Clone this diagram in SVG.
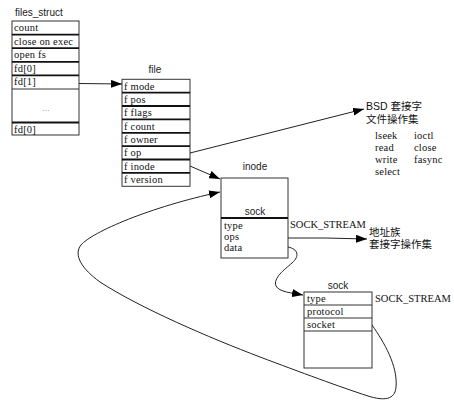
<svg xmlns="http://www.w3.org/2000/svg" width="454" height="419" viewBox="0 0 454 419">
<defs>
<marker id="ah" markerUnits="userSpaceOnUse" markerWidth="11" markerHeight="8" refX="11" refY="4" orient="auto">
<path d="M0,0 L11,4 L0,8 z" fill="#000"/>
</marker>
<style>
.box{fill:#fff;stroke:#333;stroke-width:1}
.sep{stroke:#111;stroke-width:1.8}
.thin{stroke:#333;stroke-width:1}
.t{font-family:"Liberation Serif",serif;font-size:10.5px;letter-spacing:0.2px;fill:#111}
.lbl{font-family:"Liberation Sans",sans-serif;font-size:10px;fill:#222}
.ss{font-family:"Liberation Serif",serif;font-size:10.5px;fill:#111}
.cjk{font-family:"Liberation Sans","Noto Sans CJK SC",sans-serif;font-size:10.5px;fill:#111}
.edge{fill:none;stroke:#222;stroke-width:1}
</style>
</defs>
<rect width="454" height="419" fill="#fff"/>

<g id="files_struct">
<text class="lbl" x="15" y="15.5">files_struct</text>
<rect class="box" x="12" y="21" width="67" height="114"/>
<line class="sep" x1="12" y1="34.6" x2="79" y2="34.6"/>
<line class="sep" x1="12" y1="48.2" x2="79" y2="48.2"/>
<line class="sep" x1="12" y1="61.8" x2="79" y2="61.8"/>
<line class="sep" x1="12" y1="75.4" x2="79" y2="75.4"/>
<line class="thin" x1="12" y1="89" x2="79" y2="89"/>
<line class="sep" x1="12" y1="122.5" x2="79" y2="122.5"/>
<text class="t" x="14" y="31">count</text>
<text class="t" x="14" y="44.6">close on exec</text>
<text class="t" x="14" y="58.2">open fs</text>
<text class="t" x="14" y="71.8">fd[0]</text>
<text class="t" x="14" y="85.4">fd[1]</text>
<text x="46" y="111" text-anchor="middle" style="font-family:'Liberation Sans',sans-serif;font-size:9px;fill:#999">...</text>
<text class="t" x="14" y="132.5">fd[0]</text>
</g>

<g id="file">
<text class="lbl" x="155" y="72.5" text-anchor="middle">file</text>
<rect class="box" x="122" y="79.3" width="68" height="107"/>
<line class="sep" x1="122" y1="92.7" x2="190" y2="92.7"/>
<line class="sep" x1="122" y1="106" x2="190" y2="106"/>
<line class="sep" x1="122" y1="119.4" x2="190" y2="119.4"/>
<line class="sep" x1="122" y1="132.8" x2="190" y2="132.8"/>
<line class="sep" x1="122" y1="146.1" x2="190" y2="146.1"/>
<line class="sep" x1="122" y1="159.5" x2="190" y2="159.5"/>
<line class="sep" x1="122" y1="172.9" x2="190" y2="172.9"/>
<text class="t" x="124" y="89.5">f mode</text>
<text class="t" x="124" y="102.9">f pos</text>
<text class="t" x="124" y="116.2">f flags</text>
<text class="t" x="124" y="129.6">f count</text>
<text class="t" x="124" y="143">f owner</text>
<text class="t" x="124" y="156.3">f op</text>
<text class="t" x="124" y="169.7">f inode</text>
<text class="t" x="124" y="183.1">f version</text>
</g>

<g id="bsd_ops">
<text class="cjk" x="366" y="110">BSD 套接字</text>
<text class="cjk" x="366" y="123">文件操作集</text>
<text class="t" x="375" y="139">lseek</text>
<text class="t" x="414" y="139">ioctl</text>
<text class="t" x="375" y="151">read</text>
<text class="t" x="414" y="151">close</text>
<text class="t" x="375" y="163">write</text>
<text class="t" x="414" y="163">fasync</text>
<text class="t" x="375" y="175">select</text>
</g>

<g id="inode">
<text class="lbl" x="255" y="169.5" text-anchor="middle">inode</text>
<rect class="box" x="221" y="178" width="67" height="80"/>
<line class="sep" x1="221" y1="218" x2="288" y2="218"/>
<text class="lbl" x="255" y="214.5" text-anchor="middle">sock</text>
<text class="t" x="224" y="229">type</text>
<text class="t" x="224" y="240">ops</text>
<text class="t" x="224" y="251">data</text>
<text class="ss" x="290" y="228">SOCK_STREAM</text>
</g>

<g id="af_ops">
<text class="cjk" x="369" y="236">地址族</text>
<text class="cjk" x="369" y="248">套接字操作集</text>
</g>

<g id="sock">
<text class="lbl" x="338" y="288.5" text-anchor="middle">sock</text>
<rect class="box" x="304" y="292" width="68" height="76"/>
<line class="thin" x1="304" y1="305" x2="372" y2="305"/>
<line class="thin" x1="304" y1="318" x2="372" y2="318"/>
<line class="thin" x1="304" y1="331" x2="372" y2="331"/>
<text class="t" x="307" y="302">type</text>
<text class="t" x="307" y="315">protocol</text>
<text class="t" x="307" y="328">socket</text>
<text class="ss" x="375" y="302">SOCK_STREAM</text>
</g>

<g id="connectors">
<line class="edge" x1="79" y1="83.5" x2="122" y2="84" marker-end="url(#ah)"/>
<line class="edge" x1="190" y1="153" x2="364" y2="109" marker-end="url(#ah)"/>
<line class="edge" x1="190" y1="166" x2="220" y2="179" marker-end="url(#ah)"/>
<path class="edge" d="M288,238 L325,238 L367,239" marker-end="url(#ah)"/>
<path class="edge" d="M288,247 C298,249 300,256 292,263 C284,270 273,278 276,286 C279,292 292,293 303,295" marker-end="url(#ah)"/>
<path class="edge" d="M372,325 C384,342 398,366 396,387 C395,400 384,401 368,396 C340,387 300,372 260,357 C210,338 140,308 100,282 C82,269 73,255 81,245 C92,232 150,207 220,192" marker-end="url(#ah)"/>
</g>
</svg>
